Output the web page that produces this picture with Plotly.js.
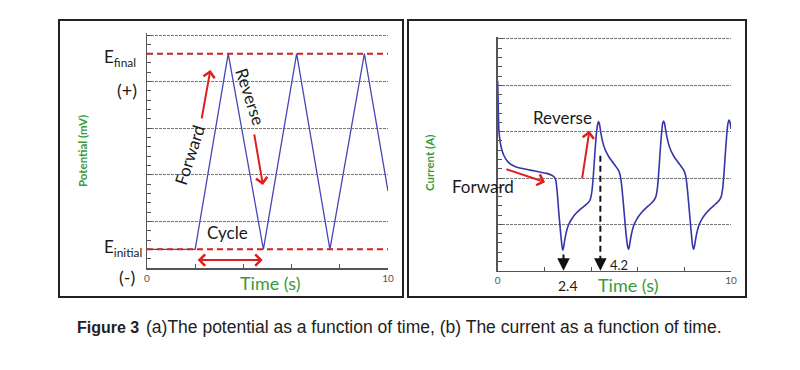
<!DOCTYPE html>
<html><head><meta charset="utf-8">
<script src="https://cdn.plot.ly/plotly-3.0.1.min.js"></script>
<style>html,body{margin:0;padding:0;background:#fff;} #chart{width:800px;height:370px;}</style>
</head><body><div id="chart"></div>
<script>
// ---------- Panel (a): potential vs time ----------
const potTime  = [0, 2.0, 3.37, 4.83, 6.21, 7.59, 9.02, 10];
const potValue = [0.4, 0.4, 4.6, 0.4, 4.6, 0.4, 4.6, 1.65];
const levelTime = [0, 10];
const eFinal = [4.6, 4.6];
const eInitial = [0.4, 0.4];

// ---------- Panel (b): current vs time ----------
const curTime = [
  0, 0.02, 0.05, 0.1, 0.17, 0.27, 0.39, 0.55, 0.74, 1.0, 1.31, 1.6, 1.89, 2.1, 2.32, 2.42, 2.49, 2.55, 2.62, 2.7, 2.76, 2.79,
  2.83, 2.88, 2.95, 3.03, 3.15, 3.32, 3.55, 3.75, 3.9, 3.98, 4.04, 4.1, 4.16, 4.22, 4.28, 4.32, 4.36, 4.42, 4.5, 4.6, 4.75, 4.9,
  5.05, 5.16, 5.24, 5.3, 5.36, 5.43, 5.5, 5.57, 5.61,
  5.65, 5.7, 5.77, 5.85, 5.97, 6.14, 6.35, 6.55, 6.7, 6.78, 6.84, 6.9, 6.96, 7.02, 7.07, 7.11, 7.15, 7.21, 7.3, 7.4, 7.55, 7.7,
  7.85, 7.96, 8.04, 8.1, 8.16, 8.23, 8.3, 8.36, 8.40,
  8.44, 8.49, 8.56, 8.64, 8.76, 8.93, 9.14, 9.34, 9.5, 9.58, 9.64, 9.7, 9.76, 9.82, 9.87, 9.92, 9.96, 10];
const curValue = [
  4.1, 3.6, 3.05, 2.8, 2.62, 2.48, 2.38, 2.3, 2.25, 2.21, 2.18, 2.15, 2.12, 2.1, 2.06, 2.02, 1.95, 1.7, 1.25, 0.8, 0.52, 0.44,
  0.52, 0.68, 0.85, 0.98, 1.1, 1.22, 1.33, 1.41, 1.48, 1.56, 1.72, 2.05, 2.5, 2.9, 3.15, 3.22, 3.17, 2.98, 2.78, 2.62, 2.47, 2.36,
  2.26, 2.18, 2.08, 1.9, 1.6, 1.2, 0.8, 0.52, 0.46,
  0.54, 0.7, 0.87, 1.0, 1.12, 1.24, 1.35, 1.44, 1.52, 1.6, 1.76, 2.1, 2.55, 2.95, 3.18, 3.23, 3.18, 3.0, 2.78, 2.62, 2.47, 2.36,
  2.26, 2.18, 2.08, 1.9, 1.6, 1.2, 0.8, 0.52, 0.46,
  0.54, 0.7, 0.87, 1.0, 1.12, 1.24, 1.35, 1.44, 1.52, 1.6, 1.76, 2.1, 2.55, 2.95, 3.18, 3.25, 3.2, 3.06];

// marked times on panel (b): position on axis, label, top of stem
const markTimes  = [2.82, 4.40];
const markLabels = ['2.4', '4.2'];
const markTops   = [0.38, 2.48];

const xTickVals = [0, 2, 4, 6, 8, 10];
const xTickText = ['0', '', '', '', '', '10'];

const W = 800, H = 370;
const px = v => v / W;
const py = v => 1 - v / H;

const FONT = 'Lato, "Open Sans", sans-serif';
const GREEN = '#3a9a3a';
const RED = '#e01e1e';
const AX = '#555';

function xAxis(domain, anchor) {
  return {
    domain: domain, anchor: anchor, range: [0, 10], fixedrange: true,
    tickmode: 'array', tickvals: xTickVals, ticktext: xTickText,
    ticks: 'inside', ticklen: 4, tickwidth: 1, tickcolor: AX,
    showline: true, linecolor: AX, linewidth: 1.5,
    showgrid: false, zeroline: false,
    tickfont: {family: FONT, size: 10, color: '#555'}
  };
}
function yAxis(domain, anchor) {
  return {
    domain: domain, anchor: anchor, range: [0, 5.05], fixedrange: true,
    dtick: 1, tick0: 0, ticks: 'inside', ticklen: 5, tickwidth: 1, tickcolor: AX,
    showticklabels: false,
    showline: true, linecolor: AX, linewidth: 1.5,
    showgrid: true, gridcolor: '#7a7a7a', gridwidth: 1, griddash: '3px,1px',
    zeroline: false,
    minor: {dtick: 0.2, ticks: 'inside', ticklen: 4, tickcolor: AX, showgrid: false}
  };
}

const traces = [
  {x: potTime, y: potValue, xaxis: 'x', yaxis: 'y', mode: 'lines',
   line: {color: '#4646b8', width: 1.3}, hoverinfo: 'skip'},
  {x: levelTime, y: eFinal, xaxis: 'x', yaxis: 'y', mode: 'lines',
   line: {color: '#d42020', width: 2, dash: '6px,4px'}, hoverinfo: 'skip'},
  {x: levelTime, y: eInitial, xaxis: 'x', yaxis: 'y', mode: 'lines',
   line: {color: '#d42020', width: 2, dash: '6px,4px'}, hoverinfo: 'skip'},
  {x: curTime, y: curValue, xaxis: 'x2', yaxis: 'y2', mode: 'lines',
   line: {color: '#3535a8', width: 1.6, shape: 'spline', smoothing: 0.5}, hoverinfo: 'skip'}
];

function txt(text, x, y, size, opts) {
  return Object.assign({
    text: text, xref: 'paper', yref: 'paper', x: px(x), y: py(y),
    xanchor: 'center', yanchor: 'middle', showarrow: false,
    font: {family: FONT, size: size, color: '#1a1a1a'}
  }, opts || {});
}
function arrow(xr, yr, tail, head, opts) {
  return Object.assign({
    text: '', xref: xr, yref: yr, axref: xr, ayref: yr,
    x: head[0], y: head[1], ax: tail[0], ay: tail[1],
    showarrow: true, arrowhead: 4, arrowsize: 1.1, arrowwidth: 2, arrowcolor: RED, standoff: 0
  }, opts || {});
}

const annotations = [
  // panel (a) labels
  txt('Potential (mV)', 82, 151, 11.5, {textangle: -90, font: {family: FONT, size: 11.5, color: GREEN, weight: 'bold'}}),
  txt('E<sub>final</sub>', 138, 58, 17, {xanchor: 'right'}),
  txt('(+)', 127, 90, 18),
  txt('E<sub>initial</sub>', 144, 248, 17, {xanchor: 'right'}),
  txt('(-)', 127, 277, 18),
  txt('Forward', 190, 155, 17, {textangle: -72}),
  txt('Reverse', 251, 97, 17, {textangle: 72}),
  txt('Cycle', 228, 232, 17),
  txt('Time (s)', 270, 283, 18, {font: {family: FONT, size: 18, color: GREEN}}),
  arrow('x', 'y', [2.26, 3.18], [2.63, 4.25]),
  arrow('x', 'y', [4.44, 2.90], [4.81, 1.78]),
  arrow('x', 'y', [2.04, 0.17], [4.8, 0.17], {arrowside: 'end+start', startarrowhead: 4, startarrowsize: 1.1}),
  // panel (b) labels
  txt('Current (A)', 430, 163, 11.5, {textangle: -90, font: {family: FONT, size: 11.5, color: GREEN, weight: 'bold'}}),
  txt('Reverse', 562, 117, 17),
  txt('Forward', 483, 187, 17),
  txt('Time (s)', 628, 285, 18, {font: {family: FONT, size: 18, color: GREEN}}),
  txt(markLabels[0], 568, 285, 14),
  txt(markLabels[1], 619, 265, 13),
  arrow('x2', 'y2', [0.31, 2.20], [2.03, 1.91]),
  arrow('x2', 'y2', [3.61, 1.96], [3.93, 3.02]),
  arrow('x2', 'y2', [markTimes[0], markTops[0]], [markTimes[0], 0], {arrowhead: 2, arrowsize: 1.25, arrowcolor: '#111'}),
  {text: '', xref: 'x2', yref: 'y2', x: markTimes[1], y: 0, ax: 0, ay: -14, showarrow: true,
   arrowhead: 2, arrowsize: 1.25, arrowwidth: 2, arrowcolor: '#111', standoff: 0},
  // caption
  txt('<b>Figure 3</b>', 141, 327, 16, {xanchor: 'right', font: {family: '"Liberation Sans Narrow", "Liberation Sans", sans-serif', size: 16, color: '#222'}}),
  txt('(a)The potential as a function of time, (b) The current as a function of time.', 144, 327, 17.5,
      {xanchor: 'left', font: {family: '"Liberation Sans", Arial, sans-serif', size: 17.5, color: '#222'}})
];

const shapes = [
  {type: 'rect', xref: 'paper', yref: 'paper', x0: px(59), x1: px(403), y0: py(297), y1: py(20),
   line: {color: '#222', width: 2}, fillcolor: 'rgba(0,0,0,0)'},
  {type: 'rect', xref: 'paper', yref: 'paper', x0: px(408), x1: px(746), y0: py(297), y1: py(20),
   line: {color: '#222', width: 2}, fillcolor: 'rgba(0,0,0,0)'},
  {type: 'line', xref: 'x2', yref: 'y2', x0: markTimes[1], x1: markTimes[1], y0: markTops[1], y1: 0.25,
   line: {color: '#111', width: 2, dash: '6px,4px'}}
];

const layout = {
  width: W, height: H, margin: {l: 0, r: 0, t: 0, b: 0},
  paper_bgcolor: '#fff', plot_bgcolor: 'rgba(0,0,0,0)', showlegend: false,
  xaxis: xAxis([px(147), px(388)], 'y'),
  yaxis: yAxis([py(268), py(32.67)], 'x'),
  xaxis2: xAxis([px(497.7), px(731)], 'y2'),
  yaxis2: yAxis([py(270.7), py(36.67)], 'x2'),
  annotations: annotations, shapes: shapes
};

Plotly.newPlot('chart', traces, layout, {displayModeBar: false, staticPlot: true});
</script></body></html>
